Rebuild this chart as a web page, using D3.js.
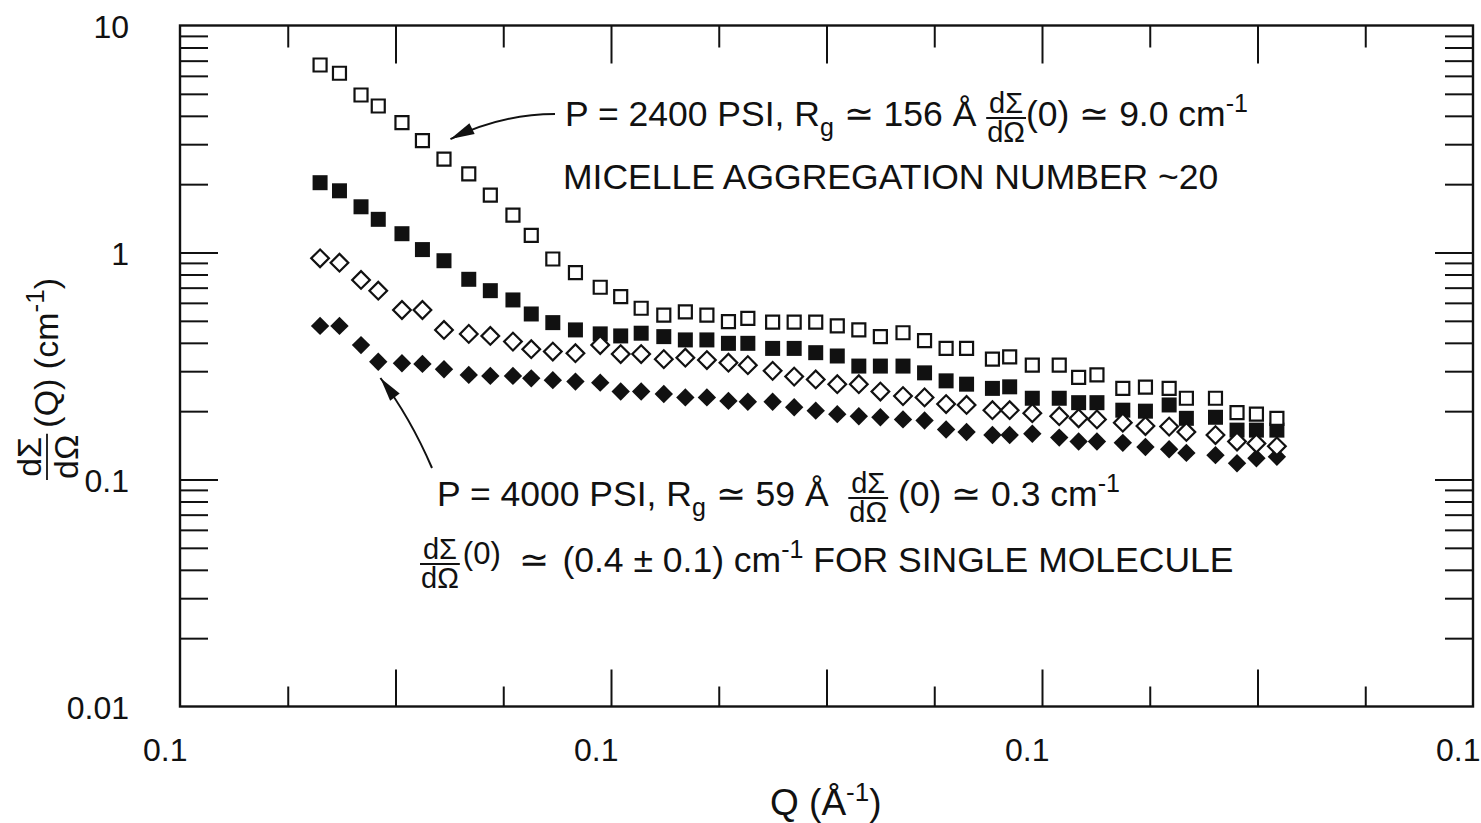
<!DOCTYPE html>
<html>
<head>
<meta charset="utf-8">
<script src="https://cdn.jsdelivr.net/npm/d3@7"></script>
<style>
  html, body { margin: 0; padding: 0; background: #fff; }
  svg text { font-family: "Liberation Sans", Arial, Helvetica, sans-serif; fill: #111; white-space: pre; }
</style>
</head>
<body>
<svg id="chart" width="1481" height="823"></svg>
<script>
// Scattering vector Q (1/Å), shared by all four runs
const qValues = [
  0.0130, 0.0148, 0.0168, 0.0184, 0.0206, 0.0225, 0.0245, 0.0268, 0.0288, 0.0309,
  0.0326, 0.0346, 0.0367, 0.0390, 0.0409, 0.0428, 0.0449, 0.0469, 0.0489, 0.0509,
  0.0527, 0.0550, 0.0570, 0.0590, 0.0610, 0.0630, 0.0650, 0.0671, 0.0691, 0.0711,
  0.0730, 0.0754, 0.0770, 0.0791, 0.0816, 0.0834, 0.0851, 0.0875, 0.0896, 0.0918,
  0.0934, 0.0961, 0.0981, 0.0999, 0.1018
];

// dΣ/dΩ(Q) in 1/cm
const openSquares = [
  6.70, 6.16, 4.94, 4.42, 3.73, 3.11, 2.58, 2.22, 1.79, 1.46,
  1.19, 0.936, 0.815, 0.703, 0.639, 0.568, 0.530, 0.548, 0.530, 0.496,
  0.513, 0.493, 0.493, 0.493, 0.475, 0.456, 0.426, 0.443, 0.409, 0.378,
  0.378, 0.339, 0.347, 0.319, 0.319, 0.282, 0.289, 0.252, 0.255, 0.252,
  0.228, 0.228, 0.197, 0.194, 0.186
];
const filledSquares = [
  2.03, 1.87, 1.59, 1.40, 1.21, 1.03, 0.920, 0.762, 0.679, 0.618,
  0.536, 0.491, 0.456, 0.438, 0.429, 0.441, 0.426, 0.412, 0.412, 0.398,
  0.398, 0.378, 0.378, 0.362, 0.350, 0.316, 0.316, 0.316, 0.295, 0.272,
  0.263, 0.252, 0.256, 0.228, 0.228, 0.218, 0.218, 0.202, 0.200, 0.213,
  0.186, 0.188, 0.165, 0.165, 0.165
];
const openDiamonds = [
  0.943, 0.902, 0.757, 0.679, 0.558, 0.558, 0.456, 0.438, 0.429, 0.405,
  0.375, 0.366, 0.360, 0.391, 0.357, 0.357, 0.339, 0.344, 0.336, 0.327,
  0.319, 0.301, 0.284, 0.276, 0.263, 0.263, 0.244, 0.233, 0.230, 0.215,
  0.213, 0.202, 0.202, 0.196, 0.190, 0.186, 0.184, 0.178, 0.172, 0.171,
  0.162, 0.157, 0.147, 0.144, 0.140
];
const filledDiamonds = [
  0.475, 0.475, 0.391, 0.330, 0.325, 0.323, 0.306, 0.289, 0.286, 0.286,
  0.279, 0.274, 0.270, 0.267, 0.244, 0.244, 0.238, 0.230, 0.230, 0.222,
  0.220, 0.220, 0.208, 0.201, 0.194, 0.190, 0.188, 0.184, 0.182, 0.166,
  0.162, 0.157, 0.157, 0.159, 0.153, 0.147, 0.147, 0.145, 0.139, 0.136,
  0.131, 0.128, 0.118, 0.124, 0.126
];

// Axis ticks and labels
const xLabelTicks = [0, 0.04, 0.08, 0.12];
const xTickLabels = ["0.1", "0.1", "0.1", "0.1"];
const xMajorTicks = [0.02, 0.04, 0.06, 0.08, 0.10];
const xMinorTicks = [0.01, 0.03, 0.05, 0.07, 0.09, 0.11];
const yLabelTicks = [0.01, 0.1, 1, 10];
const yTickLabels = ["0.01", "0.1", "1", "10"];
const yMajorTicks = [0.1, 1];
const yMinorTicks = [0.01, 0.1, 1].flatMap(d => [2, 3, 4, 5, 6, 7, 8, 9].map(m => d * m));

// Points the two arrows land on (Q, dΣ/dΩ)
const arrowTargets = [[0.0251, 3.16], [0.0186, 0.28]];

const INK = "#111";
const svg = d3.select("#chart");
const plotLeft = 180, plotRight = 1473, plotTop = 25.5, plotBottom = 706.5;

const x = d3.scaleLinear().domain([0, 0.12]).range([plotLeft, plotRight]);
const y = d3.scaleLog().domain([0.01, 10]).range([plotBottom, plotTop]);

function styleTicks(g, width) {
  g.select(".domain").remove();
  g.selectAll(".tick line").attr("stroke", INK).attr("stroke-width", width);
}

// ---- ticks on all four sides (pointing inward)
const tickSets = [
  { axis: d3.axisBottom(x).tickValues(xMajorTicks).tickSize(-37), t: `translate(0,${plotBottom})` },
  { axis: d3.axisBottom(x).tickValues(xMinorTicks).tickSize(-20), t: `translate(0,${plotBottom})` },
  { axis: d3.axisTop(x).tickValues(xMajorTicks).tickSize(-38), t: `translate(0,${plotTop})` },
  { axis: d3.axisTop(x).tickValues(xMinorTicks).tickSize(-22), t: `translate(0,${plotTop})` },
  { axis: d3.axisLeft(y).tickValues(yMajorTicks).tickSize(-38), t: `translate(${plotLeft},0)` },
  { axis: d3.axisLeft(y).tickValues(yMinorTicks).tickSize(-28), t: `translate(${plotLeft},0)` },
  { axis: d3.axisRight(y).tickValues(yMajorTicks).tickSize(-38), t: `translate(${plotRight},0)` },
  { axis: d3.axisRight(y).tickValues(yMinorTicks).tickSize(-28), t: `translate(${plotRight},0)` }
];
tickSets.forEach(s => {
  svg.append("g").attr("transform", s.t)
    .call(s.axis.tickFormat(""))
    .call(g => styleTicks(g, 2));
});

// ---- frame
svg.append("rect")
  .attr("x", plotLeft).attr("y", plotTop)
  .attr("width", plotRight - plotLeft).attr("height", plotBottom - plotTop)
  .attr("fill", "none").attr("stroke", INK).attr("stroke-width", 2.4);

// ---- tick labels
svg.append("g").attr("transform", `translate(0,${plotBottom})`)
  .call(d3.axisBottom(x).tickValues(xLabelTicks).tickSize(0).tickFormat((d, i) => xTickLabels[i]))
  .call(g => g.select(".domain").remove())
  .call(g => g.selectAll("text")
    .attr("x", 7).attr("y", 54).attr("dy", 0)
    .attr("text-anchor", "end")
    .style("font-size", "32px").attr("fill", INK));

svg.append("g").attr("transform", `translate(${plotLeft},0)`)
  .call(d3.axisLeft(y).tickValues(yLabelTicks).tickSize(0).tickFormat((d, i) => yTickLabels[i]))
  .call(g => g.select(".domain").remove())
  .call(g => g.selectAll("text")
    .attr("x", -51).attr("y", 12).attr("dy", 0)
    .attr("text-anchor", "end")
    .style("font-size", "32px").attr("fill", INK));

// ---- rich text: runs of plain text, sub/superscripts and stacked fractions
function richText(parent, x0, y0, segs, o) {
  let cx = x0;
  segs.forEach(s => {
    if (s.gap) { cx += s.gap; return; }
    if (s.frac) {
      const num = parent.append("text").attr("y", y0 + o.numDy).style("font-size", o.ffs + "px").text(s.frac[0]);
      const den = parent.append("text").attr("y", y0 + o.denDy).style("font-size", o.ffs + "px").text(s.frac[1]);
      const wn = num.node().getComputedTextLength();
      const wd = den.node().getComputedTextLength();
      const w = Math.max(wn, wd) + 2;
      num.attr("x", cx + (w - wn) / 2);
      den.attr("x", cx + (w - wd) / 2);
      parent.append("line")
        .attr("x1", cx).attr("x2", cx + w)
        .attr("y1", y0 + o.barDy).attr("y2", y0 + o.barDy)
        .attr("stroke", INK).attr("stroke-width", 1.8);
      cx += w;
      return;
    }
    const dy = s.sub ? o.subDy : s.sup ? o.supDy : (s.dy || 0);
    const size = s.size || ((s.sub || s.sup) ? o.sfs : o.fs);
    const t = parent.append("text")
      .attr("x", cx).attr("y", y0 + dy)
      .style("font-size", size + "px").text(s.t);
    cx += t.node().getComputedTextLength();
  });
  return cx;
}

const noteStyle = { fs: 35.5, sfs: 25, ffs: 29, subDy: 10, supDy: -14, numDy: -13, barDy: -8, denDy: 16 };

// ---- series markers
const sq = d3.symbol().type(d3.symbolSquare);
const series = [
  { values: filledSquares, size: 15, fill: INK, stroke: "none", rot: 0 },
  { values: openSquares, size: 13, fill: "#fff", stroke: INK, rot: 0 },
  { values: filledDiamonds, size: 13, fill: INK, stroke: "none", rot: 45 },
  { values: openDiamonds, size: 12.5, fill: "#fff", stroke: INK, rot: 45 }
];
series.forEach(s => {
  svg.append("g").selectAll("path")
    .data(s.values.map((v, i) => [qValues[i], v]))
    .join("path")
    .attr("d", sq.size(s.size * s.size)())
    .attr("transform", d => `translate(${x(d[0])},${y(d[1])}) rotate(${s.rot})`)
    .attr("fill", s.fill)
    .attr("stroke", s.stroke)
    .attr("stroke-width", 2.2);
});

// ---- curved arrows
function arrow(from, ctrl, tipData) {
  const tx = x(tipData[0]), ty = y(tipData[1]);
  svg.append("path")
    .attr("d", `M${from[0]},${from[1]} Q${ctrl[0]},${ctrl[1]} ${tx},${ty}`)
    .attr("fill", "none").attr("stroke", INK).attr("stroke-width", 2);
  const ang = Math.atan2(ty - ctrl[1], tx - ctrl[0]);
  const len = 24, half = 6;
  const bx = tx - len * Math.cos(ang), by = ty - len * Math.sin(ang);
  const px = -Math.sin(ang) * half, py = Math.cos(ang) * half;
  svg.append("path")
    .attr("d", `M${tx},${ty} L${bx + px},${by + py} L${bx - px},${by - py} Z`)
    .attr("fill", INK);
}
arrow([555, 114], [502, 114], arrowTargets[0]);
arrow([432, 468], [410, 417], arrowTargets[1]);

// ---- annotations
const notes = svg.append("g");
richText(notes, 565, 126, [
  { t: "P = 2400 PSI, R" }, { t: "g", sub: true }, { t: " ≃ 156 Å " },
  { frac: ["dΣ", "dΩ"] }, { t: "(0) ≃ 9.0 cm" }, { t: "-1", sup: true }
], noteStyle);
richText(notes, 563, 189, [{ t: "MICELLE AGGREGATION NUMBER ~20" }], noteStyle);

richText(notes, 437, 506, [
  { t: "P = 4000 PSI, R" }, { t: "g", sub: true }, { t: " ≃ 59 Å  " },
  { frac: ["dΣ", "dΩ"] }, { t: " (0) ≃ 0.3 cm" }, { t: "-1", sup: true }
], noteStyle);
richText(notes, 420, 572, [
  { frac: ["dΣ", "dΩ"] }, { gap: 3 }, { t: "(0)", dy: -8, size: 31 }, { gap: 8 }, { t: " ≃ " },
  { gap: 4 }, { t: "(0.4 ± 0.1) cm" }, { t: "-1", sup: true }, { t: " FOR SINGLE MOLECULE" }
], noteStyle);

// ---- axis titles
richText(svg.append("g"), 770, 815, [
  { t: "Q (Å" }, { t: "-1", sup: true }, { t: ")" }
], { fs: 37, sfs: 26, supDy: -14 });

const yTitle = svg.append("g").attr("transform", "translate(58,480) rotate(-90)");
richText(yTitle, 0, 0, [
  { frac: ["dΣ", "dΩ"] }, { gap: 6 }, { t: "(Q) (cm" }, { t: "-1", sup: true }, { t: ")" }
], { fs: 34, sfs: 26, ffs: 34, supDy: -14, numDy: -17, barDy: -11, denDy: 20 });
</script>
</body>
</html>
